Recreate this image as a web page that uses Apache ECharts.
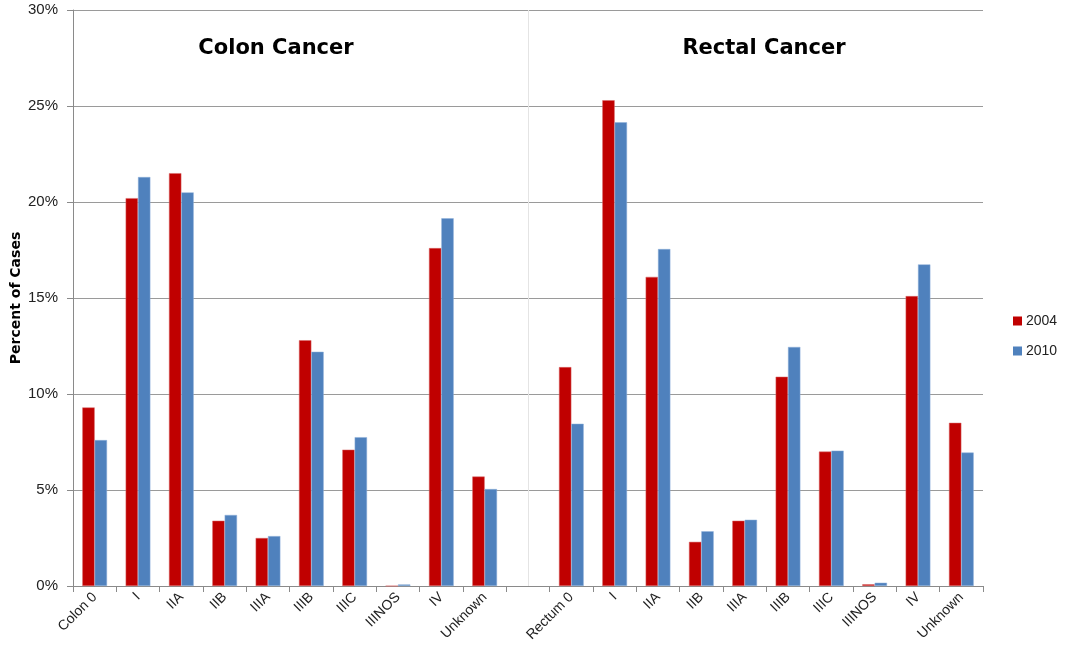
<!DOCTYPE html>
<html>
<head>
<meta charset="utf-8">
<script src="https://cdn.jsdelivr.net/npm/echarts@6/dist/echarts.min.js"></script>
<style>
  html, body { margin: 0; padding: 0; background: #ffffff; }
  #chart { width: 1066px; height: 662px; }
</style>
</head>
<body>
<div id="chart"></div>
<script>
// Stage categories: colon stages, an empty spacer slot, then rectal stages
const categories = [
  'Colon 0', 'I', 'IIA', 'IIB', 'IIIA', 'IIIB', 'IIIC', 'IIINOS', 'IV', 'Unknown',
  '',
  'Rectum 0', 'I', 'IIA', 'IIB', 'IIIA', 'IIIB', 'IIIC', 'IIINOS', 'IV', 'Unknown'
];

// Percent of cases by stage
const cases2004 = [
  9.3, 20.2, 21.5, 3.4, 2.5, 12.8, 7.1, 0, 17.6, 5.7,
  null,
  11.4, 25.3, 16.1, 2.3, 3.4, 10.9, 7.0, 0.09, 15.1, 8.5
];
const cases2010 = [
  7.6, 21.3, 20.5, 3.7, 2.6, 12.2, 7.75, 0.08, 19.15, 5.05,
  null,
  8.45, 24.15, 17.55, 2.85, 3.45, 12.45, 7.05, 0.17, 16.75, 6.95
];

const yTicks = { min: 0, max: 30, step: 5 };
const sectionTitles = ['Colon Cancer', 'Rectal Cancer'];
const spacerIndex = 10;

const labelFont = 'Liberation Sans';
const heavyFont = 'DejaVu Sans';

const chart = echarts.init(document.getElementById('chart'), null, { renderer: 'canvas' });

chart.setOption({
  animation: false,
  backgroundColor: '#ffffff',
  title: [
    {
      text: sectionTitles[0], left: 276, top: 38, textAlign: 'center', padding: 0,
      textStyle: { fontFamily: heavyFont, fontWeight: 'bold', fontSize: 21, color: '#000' }
    },
    {
      text: sectionTitles[1], left: 764, top: 38, textAlign: 'center', padding: 0,
      textStyle: { fontFamily: heavyFont, fontWeight: 'bold', fontSize: 21, color: '#000' }
    }
  ],
  legend: {
    orient: 'vertical',
    left: 1008,
    top: 309,
    itemWidth: 9,
    itemHeight: 9,
    itemGap: 16,
    icon: 'rect',
    itemStyle: { borderWidth: 0 },
    textStyle: { fontFamily: labelFont, fontSize: 14, color: '#222', padding: [0, 0, 0, -1] },
    data: ['2004', '2010']
  },
  grid: {
    left: 73, right: 83, top: 10, bottom: 76,
    containLabel: false,
    outerBoundsMode: 'none'
  },
  xAxis: {
    type: 'category',
    data: categories,
    axisLine: { show: true, lineStyle: { color: '#8a8a8a', width: 1 } },
    axisTick: { show: true, length: 6, alignWithLabel: false, lineStyle: { color: '#8a8a8a' } },
    axisLabel: {
      interval: 0,
      rotate: 45,
      margin: 9,
      fontFamily: labelFont,
      fontSize: 14,
      color: '#222'
    },
    splitLine: { show: false }
  },
  yAxis: {
    type: 'value',
    min: yTicks.min,
    max: yTicks.max,
    interval: yTicks.step,
    name: 'Percent of Cases',
    nameLocation: 'middle',
    nameGap: 50,
    nameMoveOverlap: false,
    nameTextStyle: { fontFamily: heavyFont, fontWeight: 'bold', fontSize: 14, color: '#000' },
    axisLine: { show: true, lineStyle: { color: '#8a8a8a', width: 1 } },
    axisTick: { show: true, length: 6, lineStyle: { color: '#8a8a8a' } },
    axisLabel: {
      formatter: '{value}%',
      margin: 15,
      fontFamily: labelFont,
      fontSize: 15,
      color: '#222'
    },
    splitLine: { show: true, lineStyle: { color: '#9a9a9a', width: 1 } }
  },
  series: [
    {
      name: '2004',
      type: 'bar',
      data: cases2004,
      barGap: '0%',
      barCategoryGap: '43%',
      itemStyle: { color: '#C00000', borderColor: '#d96a6a', borderWidth: 0.5 }
    },
    {
      name: '2010',
      type: 'bar',
      data: cases2010,
      barGap: '0%',
      barCategoryGap: '43%',
      itemStyle: { color: '#4F81BD', borderColor: '#8fb0db', borderWidth: 0.5 }
    },
    {
      // divider between the colon and rectal groups, centred on the spacer slot
      name: 'divider',
      type: 'line',
      data: [],
      silent: true,
      markLine: {
        silent: true,
        symbol: 'none',
        label: { show: false },
        lineStyle: { color: '#e4e4e4', type: 'solid', width: 1 },
        data: [{ xAxis: spacerIndex }]
      }
    }
  ]
});
</script>
</body>
</html>
